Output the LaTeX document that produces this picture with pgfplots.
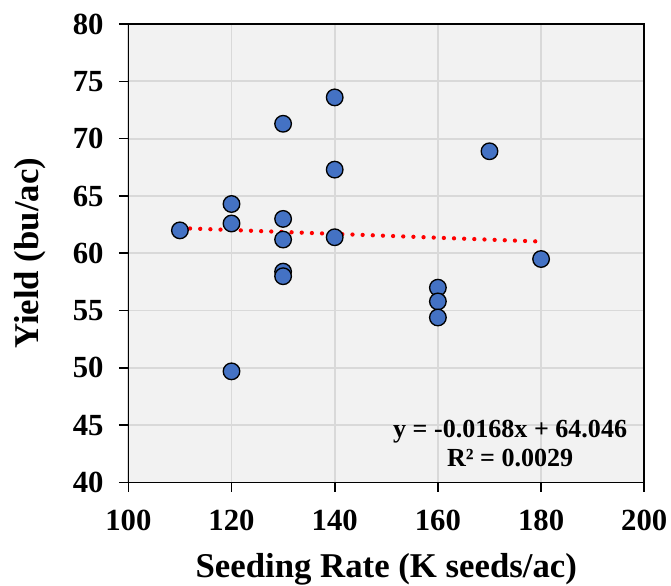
\documentclass[border=0pt]{standalone}
\usepackage{fontspec}
\setmainfont{Liberation Serif}
\usepackage{pgfplots}
\pgfplotsset{compat=1.18}
\definecolor{markblue}{HTML}{4472C4}
\definecolor{plotbg}{HTML}{F2F2F2}
\definecolor{gridc}{HTML}{D9D9D9}
\begin{document}
\begin{tikzpicture}
\begin{axis}[
  scale only axis,
  width=386pt, height=343pt,
  xmin=100, xmax=200, ymin=40, ymax=80,
  xtick={100,120,...,200}, ytick={40,45,...,80},
  axis background/.style={fill=plotbg},
  grid=major,
  major grid style={draw=gridc, line width=1.3pt},
  axis line style={line width=1.2pt},
  tick style={line width=1.2pt, black},
  tick align=outside,
  xtick pos=bottom, ytick pos=left,
  major tick length=7pt,
  /pgf/number format/assume math mode=true,
  ticklabel style={font=\fontsize{23}{26}\selectfont\bfseries},
  xticklabel style={yshift=-10pt},
  yticklabel style={xshift=-8pt},
  xlabel={Seeding Rate (K seeds/ac)},
  ylabel={Yield (bu/ac)},
  label style={font=\fontsize{26}{30}\selectfont\bfseries},
  xlabel style={yshift=-10pt},
  ylabel style={yshift=13pt},
  clip=false,
]
\addplot[red, line width=3.2pt, dash pattern=on 0pt off 7.6pt, line cap=round] coordinates {(110,62.198) (180,61.022)};
\addplot[only marks, mark=*, mark size=6.2pt, mark options={fill=markblue, draw=black, line width=1pt}] coordinates {
(110,62.0)
(120,64.3) (120,62.6) (120,49.7)
(130,71.3) (130,63.0) (130,61.2) (130,58.4) (130,58.0)
(140,73.6) (140,67.3) (140,61.4)
(160,57.0) (160,55.8) (160,54.4)
(170,68.9)
(180,59.5)
};
\node[align=center, font=\fontsize{19.5}{22}\selectfont\bfseries] at (axis cs:174,43.4) {y = -0.0168x + 64.046\\R² = 0.0029};
\end{axis}
\pgfresetboundingbox
\path (current axis.south west) ++(-96pt,-77pt) rectangle (current axis.north east) ++(20pt,18pt);
\end{tikzpicture}
\end{document}
